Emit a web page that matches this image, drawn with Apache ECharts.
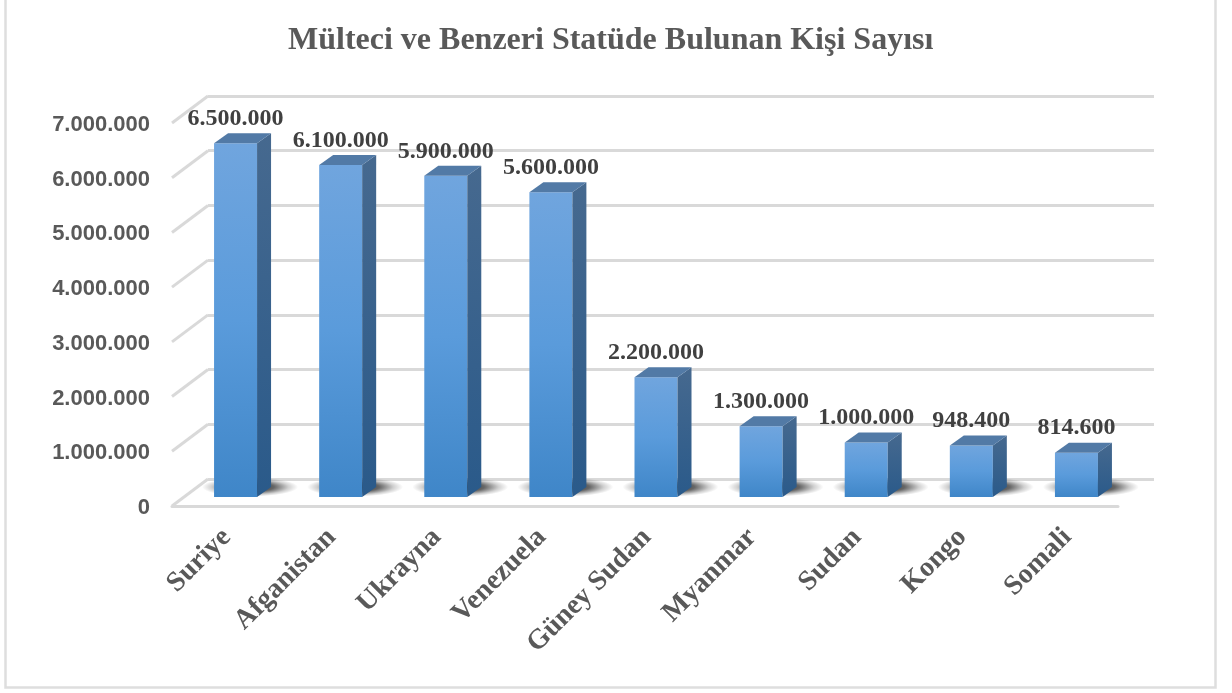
<!DOCTYPE html>
<html><head><meta charset="utf-8">
<style>html,body{margin:0;padding:0;background:#fff}#c{width:1232px;height:693px}</style>
<script src="https://cdn.jsdelivr.net/npm/echarts@6/dist/echarts.min.js"></script>
</head><body><div id="c"></div>
<script>
const chartTitle = 'Mülteci ve Benzeri Statüde Bulunan Kişi Sayısı';
const categories = ['Suriye','Afganistan','Ukrayna','Venezuela','Güney Sudan','Myanmar','Sudan','Kongo','Somali'];
const values = [6500000,6100000,5900000,5600000,2200000,1300000,1000000,948400,814600];
const ticks = [0,1000000,2000000,3000000,4000000,5000000,6000000,7000000];
const fmt = v => String(v).replace(/\B(?=(\d{3})+$)/g,'.');
const G = c => new echarts.graphic.LinearGradient(0,0,0,1,c);
const chart = echarts.init(document.getElementById('c'),null,{renderer:'canvas'});
const yBase = {type:'value',min:0,max:7000000,interval:1000000};
const xBase = {type:'category',data:categories,axisTick:{show:false}};
const gridColor = '#D9D9D9';
const barW = 43, depthX = 14, depthY = 10;
chart.setOption({
  animation:false,
  backgroundColor:'#fff',
  title:{text:chartTitle,left:283,top:20,itemGap:0,
    textStyle:{fontFamily:'Liberation Serif',fontWeight:'bold',fontSize:32,color:'#595959'}},
  graphic:[{type:'rect',z:-10,shape:{x:5.5,y:-5,width:1210,height:692.5},style:{fill:'none',stroke:'#DEDEDE',lineWidth:2.5}}],
  grid:[
    {left:172,top:123,width:946,height:383},
    {left:208,top:96,width:946,height:383},
    {left:183,top:116,width:946,height:381},
    {left:174,top:125,width:946,height:383}
  ],
  xAxis:[
    Object.assign({},xBase,{gridIndex:0,axisLine:{show:true,lineStyle:{color:gridColor,width:3}},axisLabel:{show:false}}),
    Object.assign({},xBase,{gridIndex:1,axisLine:{show:false},axisLabel:{show:false}}),
    Object.assign({},xBase,{gridIndex:2,axisLine:{show:false},axisLabel:{show:false}}),
    Object.assign({},xBase,{gridIndex:3,axisLine:{show:false},
      axisLabel:{interval:0,rotate:45,margin:25,fontFamily:'Liberation Serif',fontWeight:'bold',fontSize:28,color:'#595959'}})
  ],
  yAxis:[
    Object.assign({},yBase,{gridIndex:0,show:false}),
    Object.assign({},yBase,{gridIndex:1,axisLine:{show:false},axisTick:{show:false},axisLabel:{show:false},
      splitLine:{show:true,lineStyle:{color:gridColor,width:3}}}),
    Object.assign({},yBase,{gridIndex:2,show:false}),
    Object.assign({},yBase,{gridIndex:3,axisLine:{show:false},axisTick:{show:false},splitLine:{show:false},
      axisLabel:{margin:24,formatter:fmt,fontFamily:'Liberation Sans',fontWeight:'bold',fontSize:22,color:'#595959'}})
  ],
  series:[
    {type:'custom',xAxisIndex:0,yAxisIndex:0,coordinateSystem:'cartesian2d',clip:false,z:1,silent:true,
      data:ticks.map(t=>[0,t]),
      encode:{x:0,y:1},
      renderItem(p,api){
        const c = api.coord([0,api.value(1)]);
        const x0 = c[0]-105.1/2, y0 = c[1];
        return {type:'line',shape:{x1:x0,y1:y0,x2:x0+36,y2:y0-27},style:{stroke:gridColor,lineWidth:3}};
      }},
    {type:'custom',xAxisIndex:2,yAxisIndex:2,coordinateSystem:'cartesian2d',clip:false,z:3,silent:true,
      data:values.map((v,i)=>[i,v]),
      encode:{x:0,y:1},
      renderItem(p,api){
        const top = api.coord([api.value(0),api.value(1)]);
        const base = api.coord([api.value(0),0]);
        const x = top[0]-barW/2, r = x+barW, y = top[1], b = base[1];
        const shade = {type:'circle',shape:{cx:0,cy:0,r:48},x:r-7,y:b-10,scaleY:0.2,
          style:{fill:new echarts.graphic.RadialGradient(0.5,0.5,0.5,[
            {offset:0,color:'rgba(0,0,0,0.85)'},{offset:0.5,color:'rgba(0,0,0,0.6)'},{offset:0.8,color:'rgba(0,0,0,0.18)'},{offset:1,color:'rgba(0,0,0,0)'}])}};
        const front = {type:'rect',shape:{x:x,y:y,width:barW,height:b-y},
          style:{fill:G([{offset:0,color:'#70A5DE'},{offset:0.5,color:'#5A9BDB'},{offset:1,color:'#3F86C8'}])}};
        const side = {type:'polygon',shape:{points:[[r,y],[r+depthX,y-depthY],[r+depthX,b-depthY],[r,b]]},
          style:{fill:G([{offset:0,color:'#46698F'},{offset:1,color:'#2A5A8A'}])}};
        const cap = {type:'polygon',shape:{points:[[x,y],[r,y],[r+depthX,y-depthY],[x+depthX,y-depthY]]},
          style:{fill:'#527AA6'}};
        const label = {type:'text',style:{text:fmt(api.value(1)),x:x+barW/2,y:y-24.5,align:'center',verticalAlign:'middle',
          font:'bold 24px "Liberation Serif"',fill:'#404040'}};
        return {type:'group',children:[shade,front,side,cap,label]};
      }}
  ]
});
</script></body></html>
